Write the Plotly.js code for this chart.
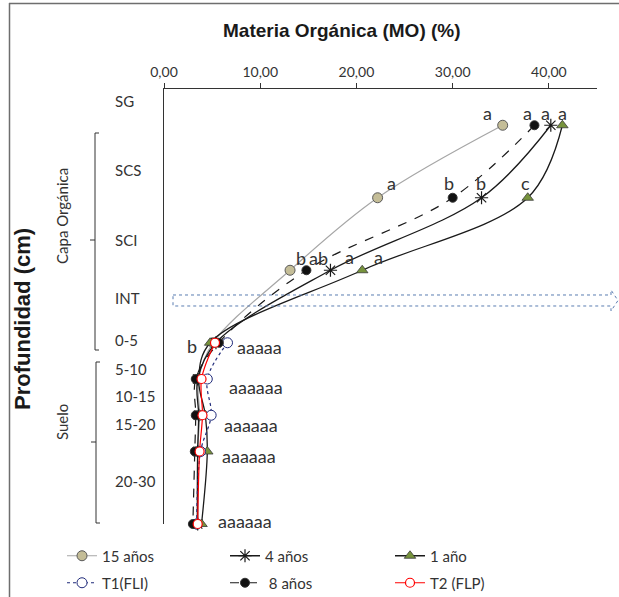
<!DOCTYPE html>
<html>
<head>
<meta charset="utf-8">
<script src="https://cdn.plot.ly/plotly-3.0.1.min.js"></script>
<style>
  html, body { margin: 0; padding: 0; background: #ffffff; }
  #chart { width: 619px; height: 597px; }
</style>
</head>
<body>
<div id="chart"></div>
<script>
// Depth positions on the (reversed) vertical axis: organic layers above 0, soil below
const depthAll  = [-25, -15, -5, 5, 10, 15, 20, 30];
const depthSoil = [5, 10, 15, 20, 30];

// Materia orgánica (%) per treatment
const mo15 = [35.2, 22.2, 13.1, 5.1, 3.6, 3.7, 3.5, 3.4];
const mo4  = [40.2, 33.0, 17.3, 5.4, 3.5, 3.6, 3.5, 3.5];
const mo1  = [41.4, 37.8, 20.6, 4.8, 3.6, 4.3, 4.5, 3.9];
const mo8  = [38.5, 30.0, 14.8, 5.7, 3.3, 3.3, 3.2, 3.0];
const moT1 = [6.6, 4.5, 4.9, 3.8, 3.4];
const moT2 = [5.3, 3.9, 4.0, 3.7, 3.5];

// Significance letters for the three organic layers
const let15 = ['a', 'a', 'b'];
const let8  = ['a', 'b', 'ab'];
const let4  = ['a', 'b', 'a'];
const let1  = ['a', 'c', 'a'];
// Letters for the soil rows
const soilLetters = ['aaaaa', 'aaaaaa', 'aaaaaa', 'aaaaaa', 'aaaaaa'];
const soilExtra = 'b';

// Layer names written beside the vertical axis
const layerLabels = ['SG', 'SCS', 'SCI', 'INT', '0-5', '5-10', '10-15', '15-20', '20-30'];

const xTicks = [0, 10, 20, 30, 40];

// ---- pixel helpers (plot area 164..597 x 89..524) ----
const W = 619, H = 597;
const L = 164, R = 597, T = 89, B = 524;
const px = v => (v - L) / (R - L);
const py = v => (B - v) / (B - T);

const FONT = 'Lato, "Open Sans", sans-serif';
const BOLD = '"Liberation Sans", Arial, sans-serif';
const TXT = '#333333';

function series(name, x, y, line, marker, legend) {
  return {
    type: 'scatter', mode: 'lines+markers', name: name,
    x: x, y: y, line: Object.assign({shape: 'spline', smoothing: 1}, line),
    marker: marker, legend: legend, cliponaxis: false
  };
}

const traces = [
  series('15 años', mo15, depthAll, {color: '#a6a6a6', width: 1.2},
         {symbol: 'circle', size: 10, color: '#c4bd97', line: {color: '#595959', width: 1}}, 'legend'),
  series('4 años', mo4, depthAll, {color: '#1a1a1a', width: 1.3},
         {symbol: 'asterisk-open', size: 11, color: '#1a1a1a', line: {color: '#1a1a1a', width: 1.2}}, 'legend2'),
  series('1 año', mo1, depthAll, {color: '#1a1a1a', width: 1.3},
         {symbol: 'triangle-up', size: 10, color: '#77933c', line: {color: '#3a3a3a', width: 0.8}}, 'legend3'),
  series('T1(FLI)', moT1, depthSoil, {color: '#1f2a7a', width: 1.2, dash: 'dot'},
         {symbol: 'circle', size: 10, color: '#ffffff', line: {color: '#1f2a7a', width: 1}}, 'legend4'),
  series(' 8 años', mo8, depthAll, {color: '#1a1a1a', width: 1.2, dash: 'dash'},
         {symbol: 'circle', size: 9, color: '#111111', line: {color: '#333333', width: 1}}, 'legend5'),
  series('T2 (FLP)', moT2, depthSoil, {color: '#ff0000', width: 1.2},
         {symbol: 'circle', size: 9, color: '#ffffff', line: {color: '#ff0000', width: 1.2}}, 'legend6')
];

const annotations = [];

// Axis titles
annotations.push({
  text: '<b>Materia Orgánica (MO) (%)</b>', xref: 'paper', yref: 'paper',
  x: px(342), y: py(30), showarrow: false, xanchor: 'center', yanchor: 'middle',
  font: {family: BOLD, size: 19, color: '#1a1a1a'}
});
annotations.push({
  text: '<b>Profundidad (cm)</b>', xref: 'paper', yref: 'paper', textangle: -90,
  x: px(22), y: py(319), showarrow: false, xanchor: 'center', yanchor: 'middle',
  font: {family: BOLD, size: 22, color: '#1a1a1a'}
});

// Layer labels
const layerY = [101, 170, 240, 298, 340, 369, 396, 424, 481];
layerLabels.forEach((t, i) => annotations.push({
  text: t, xref: 'paper', yref: 'paper', x: px(113), y: py(layerY[i]),
  xanchor: 'left', yanchor: 'middle', showarrow: false,
  font: {family: FONT, size: 15, color: TXT}
}));

// Group names
annotations.push({
  text: 'Capa Orgánica', xref: 'paper', yref: 'paper', textangle: -90,
  x: px(62), y: py(216), showarrow: false, xanchor: 'center', yanchor: 'middle',
  font: {family: FONT, size: 15, color: TXT}
});
annotations.push({
  text: 'Suelo', xref: 'paper', yref: 'paper', textangle: -90,
  x: px(62), y: py(422), showarrow: false, xanchor: 'center', yanchor: 'middle',
  font: {family: FONT, size: 15, color: TXT}
});

// Letters over the organic-layer points
const letterSets = [
  {x: mo15, l: let15, off: [[-15, 12], [14, 15], [11, 12]]},
  {x: mo8,  l: let8,  off: [[-7, 12], [-4, 15], [12, 12]]},
  {x: mo4,  l: let4,  off: [[-5, 12], [-1, 15], [19, 13]]},
  {x: mo1,  l: let1,  off: [[0, 12], [-2, 15], [16, 13]]}
];
letterSets.forEach(s => s.l.forEach((t, i) => annotations.push({
  text: t, x: s.x[i], y: depthAll[i], xref: 'x', yref: 'y', showarrow: false,
  xshift: s.off[i][0], yshift: s.off[i][1], yanchor: 'middle',
  font: {family: FONT, size: 18, color: TXT}
})));

// Letters for the soil rows
const soilLetterPos = [[259, 347], [256, 387], [251, 425], [249, 456], [245, 521]];
soilLetters.forEach((t, i) => annotations.push({
  text: t, xref: 'paper', yref: 'paper', x: px(soilLetterPos[i][0]), y: py(soilLetterPos[i][1]),
  showarrow: false, xanchor: 'center', yanchor: 'middle',
  font: {family: FONT, size: 18, color: TXT}
}));
annotations.push({
  text: soilExtra, xref: 'paper', yref: 'paper', x: px(192), y: py(346),
  showarrow: false, xanchor: 'center', yanchor: 'middle',
  font: {family: FONT, size: 18, color: TXT}
});

// Shapes: frame, brackets, interface arrow
function seg(x0, y0, x1, y1, color, width) {
  return {type: 'line', xref: 'paper', yref: 'paper', x0: px(x0), y0: py(y0), x1: px(x1), y1: py(y1),
          line: {color: color, width: width}};
}
const shapes = [
  seg(9, 3.5, 619, 3.5, '#6e6e6e', 1.5),
  seg(9.5, 3, 9.5, 597, '#6e6e6e', 1.5),
  // Capa Orgánica bracket
  seg(95, 133, 95, 350, '#333333', 1),
  seg(95, 133, 99, 133, '#333333', 1),
  seg(95, 350, 99, 350, '#333333', 1),
  seg(90, 240, 95, 240, '#333333', 1),
  // Suelo bracket
  seg(96, 362, 96, 523, '#333333', 1),
  seg(96, 362, 100, 362, '#333333', 1),
  seg(96, 523, 100, 523, '#333333', 1),
  seg(91, 442, 96, 442, '#333333', 1)
];
const arrowPts = [[173, 295], [611, 295], [611, 290], [618, 300.5], [611, 311], [611, 306], [173, 306]];
shapes.push({
  type: 'path', xref: 'paper', yref: 'paper',
  path: 'M' + arrowPts.map(p => px(p[0]).toFixed(5) + ',' + py(p[1]).toFixed(5)).join(' L') + ' Z',
  line: {color: '#5b7db1', width: 1, dash: 'dot'}, fillcolor: 'rgba(0,0,0,0)'
});

// One legend per entry, laid out as a 3 x 2 grid under the plot
const legendCols = [62, 225, 390];
const legendRows = [556, 583];
function legendAt(i) {
  return {
    orientation: 'h', xref: 'container', yref: 'container', xanchor: 'left', yanchor: 'middle',
    x: legendCols[i % 3] / W, y: 1 - legendRows[Math.floor(i / 3)] / H,
    bgcolor: 'rgba(0,0,0,0)', itemwidth: 30,
    font: {family: FONT, size: 15, color: TXT}
  };
}

const layout = {
  width: W, height: H,
  margin: {l: L, r: W - R, t: T, b: H - B, pad: 0},
  paper_bgcolor: '#ffffff', plot_bgcolor: '#ffffff',
  showlegend: true,
  separators: ',.',
  xaxis: {
    side: 'top', range: [0, 45], tickvals: xTicks, tickformat: '.2f',
    showline: true, linecolor: '#333333', linewidth: 1,
    ticks: 'outside', ticklen: 5, tickcolor: '#333333', showgrid: false, zeroline: false,
    tickfont: {family: FONT, size: 14, color: TXT}, fixedrange: true, automargin: false
  },
  yaxis: {
    range: [30, -30], showline: true, linecolor: '#333333', linewidth: 1,
    showticklabels: false, ticks: '', showgrid: false, zeroline: false, fixedrange: true,
    automargin: false
  },
  legend: legendAt(0), legend2: legendAt(1), legend3: legendAt(2),
  legend4: legendAt(3), legend5: legendAt(4), legend6: legendAt(5),
  annotations: annotations,
  shapes: shapes
};

Plotly.newPlot('chart', traces, layout, {displayModeBar: false, staticPlot: true});
</script>
</body>
</html>
